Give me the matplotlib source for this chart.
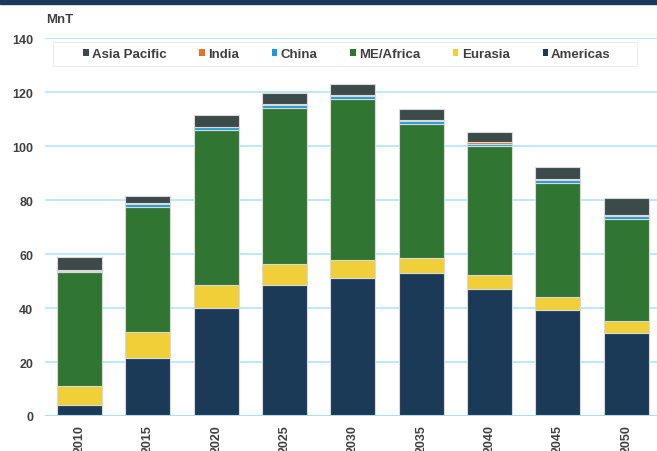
import numpy as np
import matplotlib
matplotlib.use("Agg")
import matplotlib.pyplot as plt
from matplotlib.patches import Rectangle

# data (MnT)
years = ["2010", "2015", "2020", "2025", "2030", "2035", "2040", "2045", "2050"]
americas = [4.2, 21.5, 40.0, 48.4, 51.1, 52.8, 47.2, 39.4, 30.6]
eurasia = [7.0, 9.5, 8.6, 7.9, 6.8, 5.7, 5.1, 4.6, 4.6]
me_africa = [42.0, 46.5, 57.3, 57.9, 59.5, 49.6, 47.6, 42.3, 37.8]
china = [0.6, 1.0, 1.0, 1.0, 1.0, 1.0, 1.0, 1.0, 1.0]
india = [0.2, 0.3, 0.3, 0.4, 0.5, 0.5, 0.4, 0.5, 0.6]
asia_pacific = [5.0, 2.5, 4.4, 4.0, 4.2, 4.1, 3.8, 4.5, 6.0]

series = [("Americas", americas, "#1b3a57"),
          ("Eurasia", eurasia, "#f0cf38"),
          ("ME/Africa", me_africa, "#317533"),
          ("China", china, "#1d9bd7"),
          ("India", india, "#e8702a"),
          ("Asia Pacific", asia_pacific, "#3d4a4a")]

font = "Liberation Sans"
txt_col = "#404040"

fig = plt.figure(figsize=(6.57, 4.52), dpi=100)
ax = fig.add_axes([45 / 657, 35 / 452, 612 / 657, 378 / 452])

x = np.arange(len(years))
bottom = np.zeros(len(years))
handles = {}
for name, vals, col in series:
    vals = np.array(vals)
    b = ax.bar(x, vals, 0.66, bottom=bottom, color=col, edgecolor="#d9d9d9",
               linewidth=0.8, label=name, zorder=3)
    handles[name] = b
    bottom += vals

ax.set_xlim(-0.504, 8.45)
ax.set_ylim(0, 140)
ax.set_yticks(np.arange(0, 141, 20))
ax.yaxis.grid(True, color="#b5e3f5", linewidth=1.2, zorder=0)
ax.set_axisbelow(True)
for s in ax.spines.values():
    s.set_visible(False)
ax.axhline(0, color="#a9def3", linewidth=1.5, zorder=4)

ax.set_xticks(x)
ax.set_xticklabels(years, rotation=90, fontsize=9, fontweight="bold",
                   color=txt_col, family=font)
ax.tick_params(axis="both", length=0)
ax.tick_params(axis="x", pad=6)
ax.tick_params(axis="y", pad=8.6)
for lab in ax.get_yticklabels():
    lab.set_fontsize(9)
    lab.set_fontweight("bold")
    lab.set_color(txt_col)
    lab.set_family(font)

# legend box drawn by hand, legend itself frameless
fig.patches.append(Rectangle((53 / 657, 1 - 67 / 452), 584 / 657, 24 / 452,
                             transform=fig.transFigure, facecolor="white",
                             edgecolor="#eeeeee", linewidth=0.8, zorder=5))
order = ["Asia Pacific", "India", "China", "ME/Africa", "Eurasia", "Americas"]
leg = fig.legend([handles[n] for n in order], order, ncol=6, loc="center",
                 bbox_to_anchor=(347 / 657, 1 - 55 / 452), frameon=False,
                 handlelength=0.4, handleheight=0.4, handletextpad=0.25,
                 columnspacing=2.5, borderpad=0,
                 prop={"family": font, "weight": "bold", "size": 9.5})
leg.set_zorder(6)
for t in leg.get_texts():
    t.set_color(txt_col)
for h in leg.legend_handles:
    h.set_edgecolor("none")

fig.text(46 / 657, 1 - 20 / 452, "MnT", fontsize=9.5, fontweight="bold",
         color=txt_col, family=font, va="center", ha="left")

# navy band at the top
fig.patches.append(Rectangle((0, 1 - 5 / 452), 1, 5 / 452, transform=fig.transFigure,
                             color="#1b3a57", zorder=0))

fig.savefig("out.png", dpi=100)
